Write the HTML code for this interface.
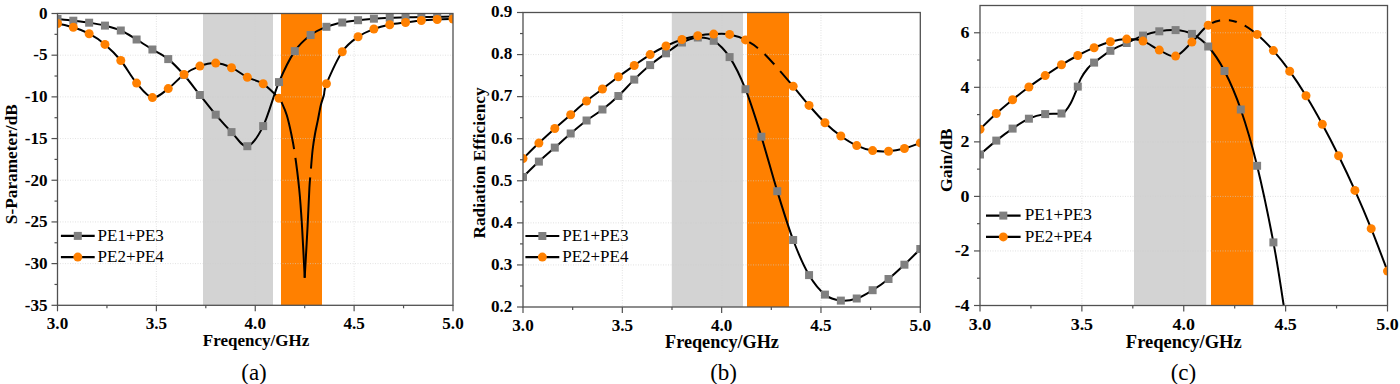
<!DOCTYPE html>
<html><head><meta charset="utf-8"><title>Figure</title>
<style>html,body{margin:0;padding:0;background:#fff;width:1400px;height:384px;overflow:hidden}svg{display:block}</style>
</head><body>
<svg width="1400" height="384" viewBox="0 0 1400 384">
<style>text{font-family:"Liberation Serif",serif;fill:#000}.tl{font-weight:bold;font-size:16px}.at{font-weight:bold}.lg{font-weight:normal}.cp{font-weight:normal}</style>
<rect width="1400" height="384" fill="#fff"/>
<clipPath id="ca"><rect x="57.5" y="13.5" width="395.5" height="291.8"/></clipPath>
<g clip-path="url(#ca)">
<rect x="203" y="13.5" width="70" height="291.8" fill="#d3d3d3"/>
<rect x="281" y="13.5" width="41" height="291.8" fill="#ff8000"/>
<line x1="156.38" y1="13.5" x2="156.38" y2="305.3" stroke="#cfcfcf" stroke-width="1" stroke-opacity="0.6" stroke-dasharray="1 1.5"/>
<line x1="255.25" y1="13.5" x2="255.25" y2="305.3" stroke="#cfcfcf" stroke-width="1" stroke-opacity="0.6" stroke-dasharray="1 1.5"/>
<line x1="354.12" y1="13.5" x2="354.12" y2="305.3" stroke="#cfcfcf" stroke-width="1" stroke-opacity="0.6" stroke-dasharray="1 1.5"/>
<line x1="57.5" y1="55.19" x2="453" y2="55.19" stroke="#cfcfcf" stroke-width="1" stroke-opacity="0.6" stroke-dasharray="1 1.5"/>
<line x1="57.5" y1="96.87" x2="453" y2="96.87" stroke="#cfcfcf" stroke-width="1" stroke-opacity="0.6" stroke-dasharray="1 1.5"/>
<line x1="57.5" y1="138.56" x2="453" y2="138.56" stroke="#cfcfcf" stroke-width="1" stroke-opacity="0.6" stroke-dasharray="1 1.5"/>
<line x1="57.5" y1="180.24" x2="453" y2="180.24" stroke="#cfcfcf" stroke-width="1" stroke-opacity="0.6" stroke-dasharray="1 1.5"/>
<line x1="57.5" y1="221.93" x2="453" y2="221.93" stroke="#cfcfcf" stroke-width="1" stroke-opacity="0.6" stroke-dasharray="1 1.5"/>
<line x1="57.5" y1="263.61" x2="453" y2="263.61" stroke="#cfcfcf" stroke-width="1" stroke-opacity="0.6" stroke-dasharray="1 1.5"/>
<path d="M57.5,19C60.14,19.28 68.05,20.08 73.32,20.7C78.59,21.32 83.87,21.88 89.14,22.7C94.41,23.52 99.69,24.3 104.96,25.6C110.23,26.9 115.51,28.18 120.78,30.5C126.05,32.82 131.33,36.33 136.6,39.5C141.87,42.67 147.15,46.23 152.42,49.5C157.69,52.77 162.97,54.85 168.24,59.1C173.51,63.35 178.79,69.02 184.06,75C189.33,80.98 194.61,88.38 199.88,95C205.15,101.62 210.43,108.52 215.7,114.7C220.97,120.88 226.25,126.85 231.52,132.1C236.79,137.35 242.07,147.2 247.34,146.2C252.61,145.2 257.89,136.78 263.16,126.1C268.43,115.42 273.71,94.6 278.98,82.1C284.25,69.6 289.53,58.95 294.8,51.1C300.07,43.25 305.35,39.05 310.62,35C315.89,30.95 321.17,28.88 326.44,26.8C331.71,24.72 336.99,23.6 342.26,22.5C347.53,21.4 352.81,20.83 358.08,20.2C363.35,19.57 368.63,19.1 373.9,18.7C379.17,18.3 384.45,18.03 389.72,17.8C394.99,17.57 400.27,17.43 405.54,17.3C410.81,17.17 416.09,17.08 421.36,17C426.63,16.92 431.91,16.87 437.18,16.8C442.45,16.73 450.36,16.63 453,16.6" fill="none" stroke="#000" stroke-width="2" stroke-linejoin="round"/>
<path d="M57.5,23.5C60.14,24.12 68.05,25.5 73.32,27.2C78.59,28.9 83.87,30.83 89.14,33.7C94.41,36.57 99.69,39.93 104.96,44.4C110.23,48.87 115.51,54.05 120.78,60.5C126.05,66.95 131.33,76.92 136.6,83.1C141.87,89.28 147.15,96.68 152.42,97.6C157.69,98.52 162.97,92.45 168.24,88.6C173.51,84.75 178.79,78.25 184.06,74.5C189.33,70.75 194.61,68 199.88,66.1C205.15,64.2 210.43,62.83 215.7,63.1C220.97,63.37 226.25,65.33 231.52,67.7C236.79,70.07 242.07,74.62 247.34,77.3C252.61,79.98 257.89,80.32 263.16,83.8C268.43,87.28 275.89,95.07 278.98,98.2C282.07,101.33 280.4,99.75 281.7,102.6C283,105.45 285.2,110.07 286.8,115.3C288.4,120.53 289.97,127.63 291.3,134C292.63,140.37 293.5,144.5 294.8,153.5C296.1,162.5 297.9,175.92 299.1,188C300.3,200.08 301.07,211.05 302,226C302.93,240.95 304.25,269.08 304.7,277.7" fill="none" stroke="#000" stroke-width="2" stroke-linejoin="round"/>
<path d="M304.7,277.7C305.18,269.08 306.82,240.95 307.6,226C308.38,211.05 308.9,196.83 309.4,188C309.9,179.17 310.07,179.33 310.6,173C311.13,166.67 311.87,156.5 312.6,150C313.33,143.5 314.13,138.93 315,134C315.87,129.07 316.83,125.2 317.8,120.4C318.77,115.6 319.78,109.43 320.8,105.2C321.82,100.97 322.96,98.58 323.9,95C324.84,91.42 323.38,90.97 326.44,83.75C329.5,76.53 336.99,59.53 342.26,51.7C347.53,43.88 352.81,40.58 358.08,36.8C363.35,33.02 368.63,31.02 373.9,29C379.17,26.98 384.45,25.78 389.72,24.7C394.99,23.62 400.27,23.2 405.54,22.5C410.81,21.8 416.09,21 421.36,20.5C426.63,20 431.91,19.75 437.18,19.5C442.45,19.25 450.36,19.08 453,19" fill="none" stroke="#000" stroke-width="2" stroke-linejoin="round"/>
<rect x="53.5" y="15" width="8" height="8" fill="#808080"/>
<rect x="69.32" y="16.7" width="8" height="8" fill="#808080"/>
<rect x="85.14" y="18.7" width="8" height="8" fill="#808080"/>
<rect x="100.96" y="21.6" width="8" height="8" fill="#808080"/>
<rect x="116.78" y="26.5" width="8" height="8" fill="#808080"/>
<rect x="132.6" y="35.5" width="8" height="8" fill="#808080"/>
<rect x="148.42" y="45.5" width="8" height="8" fill="#808080"/>
<rect x="164.24" y="55.1" width="8" height="8" fill="#808080"/>
<rect x="180.06" y="71" width="8" height="8" fill="#808080"/>
<rect x="195.88" y="91" width="8" height="8" fill="#808080"/>
<rect x="211.7" y="110.7" width="8" height="8" fill="#808080"/>
<rect x="227.52" y="128.1" width="8" height="8" fill="#808080"/>
<rect x="243.34" y="142.2" width="8" height="8" fill="#808080"/>
<rect x="259.16" y="122.1" width="8" height="8" fill="#808080"/>
<rect x="274.98" y="78.1" width="8" height="8" fill="#808080"/>
<rect x="290.8" y="47.1" width="8" height="8" fill="#808080"/>
<rect x="306.62" y="31" width="8" height="8" fill="#808080"/>
<rect x="322.44" y="22.8" width="8" height="8" fill="#808080"/>
<rect x="338.26" y="18.5" width="8" height="8" fill="#808080"/>
<rect x="354.08" y="16.2" width="8" height="8" fill="#808080"/>
<rect x="369.9" y="14.7" width="8" height="8" fill="#808080"/>
<rect x="385.72" y="13.8" width="8" height="8" fill="#808080"/>
<rect x="401.54" y="13.3" width="8" height="8" fill="#808080"/>
<rect x="417.36" y="13" width="8" height="8" fill="#808080"/>
<rect x="433.18" y="12.8" width="8" height="8" fill="#808080"/>
<rect x="449" y="12.6" width="8" height="8" fill="#808080"/>
<circle cx="57.5" cy="23.5" r="4.5" fill="#ff8000"/>
<circle cx="73.32" cy="27.2" r="4.5" fill="#ff8000"/>
<circle cx="89.14" cy="33.7" r="4.5" fill="#ff8000"/>
<circle cx="104.96" cy="44.4" r="4.5" fill="#ff8000"/>
<circle cx="120.78" cy="60.5" r="4.5" fill="#ff8000"/>
<circle cx="136.6" cy="83.1" r="4.5" fill="#ff8000"/>
<circle cx="152.42" cy="97.6" r="4.5" fill="#ff8000"/>
<circle cx="168.24" cy="88.6" r="4.5" fill="#ff8000"/>
<circle cx="184.06" cy="74.5" r="4.5" fill="#ff8000"/>
<circle cx="199.88" cy="66.1" r="4.5" fill="#ff8000"/>
<circle cx="215.7" cy="63.1" r="4.5" fill="#ff8000"/>
<circle cx="231.52" cy="67.7" r="4.5" fill="#ff8000"/>
<circle cx="247.34" cy="77.3" r="4.5" fill="#ff8000"/>
<circle cx="263.16" cy="83.8" r="4.5" fill="#ff8000"/>
<circle cx="278.98" cy="98.2" r="4.5" fill="#ff8000"/>
<circle cx="294.8" cy="153.5" r="4.5" fill="#ff8000"/>
<circle cx="310.62" cy="173" r="4.5" fill="#ff8000"/>
<circle cx="326.44" cy="83.75" r="4.5" fill="#ff8000"/>
<circle cx="342.26" cy="51.7" r="4.5" fill="#ff8000"/>
<circle cx="358.08" cy="36.8" r="4.5" fill="#ff8000"/>
<circle cx="373.9" cy="29" r="4.5" fill="#ff8000"/>
<circle cx="389.72" cy="24.7" r="4.5" fill="#ff8000"/>
<circle cx="405.54" cy="22.5" r="4.5" fill="#ff8000"/>
<circle cx="421.36" cy="20.5" r="4.5" fill="#ff8000"/>
<circle cx="437.18" cy="19.5" r="4.5" fill="#ff8000"/>
<circle cx="453" cy="19" r="4.5" fill="#ff8000"/>
</g>
<rect x="57.5" y="13.5" width="395.5" height="291.8" fill="none" stroke="#505050" stroke-width="1.3"/>
<line x1="57.5" y1="305.3" x2="57.5" y2="311.3" stroke="#505050" stroke-width="1.2"/>
<line x1="106.94" y1="305.3" x2="106.94" y2="308.3" stroke="#505050" stroke-width="1.2"/>
<line x1="156.38" y1="305.3" x2="156.38" y2="311.3" stroke="#505050" stroke-width="1.2"/>
<line x1="205.81" y1="305.3" x2="205.81" y2="308.3" stroke="#505050" stroke-width="1.2"/>
<line x1="255.25" y1="305.3" x2="255.25" y2="311.3" stroke="#505050" stroke-width="1.2"/>
<line x1="304.69" y1="305.3" x2="304.69" y2="308.3" stroke="#505050" stroke-width="1.2"/>
<line x1="354.12" y1="305.3" x2="354.12" y2="311.3" stroke="#505050" stroke-width="1.2"/>
<line x1="403.56" y1="305.3" x2="403.56" y2="308.3" stroke="#505050" stroke-width="1.2"/>
<line x1="453" y1="305.3" x2="453" y2="311.3" stroke="#505050" stroke-width="1.2"/>
<line x1="51.5" y1="13.5" x2="57.5" y2="13.5" stroke="#505050" stroke-width="1.2"/>
<line x1="54.5" y1="34.34" x2="57.5" y2="34.34" stroke="#505050" stroke-width="1.2"/>
<line x1="51.5" y1="55.19" x2="57.5" y2="55.19" stroke="#505050" stroke-width="1.2"/>
<line x1="54.5" y1="76.03" x2="57.5" y2="76.03" stroke="#505050" stroke-width="1.2"/>
<line x1="51.5" y1="96.87" x2="57.5" y2="96.87" stroke="#505050" stroke-width="1.2"/>
<line x1="54.5" y1="117.71" x2="57.5" y2="117.71" stroke="#505050" stroke-width="1.2"/>
<line x1="51.5" y1="138.56" x2="57.5" y2="138.56" stroke="#505050" stroke-width="1.2"/>
<line x1="54.5" y1="159.4" x2="57.5" y2="159.4" stroke="#505050" stroke-width="1.2"/>
<line x1="51.5" y1="180.24" x2="57.5" y2="180.24" stroke="#505050" stroke-width="1.2"/>
<line x1="54.5" y1="201.09" x2="57.5" y2="201.09" stroke="#505050" stroke-width="1.2"/>
<line x1="51.5" y1="221.93" x2="57.5" y2="221.93" stroke="#505050" stroke-width="1.2"/>
<line x1="54.5" y1="242.77" x2="57.5" y2="242.77" stroke="#505050" stroke-width="1.2"/>
<line x1="51.5" y1="263.61" x2="57.5" y2="263.61" stroke="#505050" stroke-width="1.2"/>
<line x1="54.5" y1="284.46" x2="57.5" y2="284.46" stroke="#505050" stroke-width="1.2"/>
<line x1="51.5" y1="305.3" x2="57.5" y2="305.3" stroke="#505050" stroke-width="1.2"/>
<text transform="translate(57.5,329.2) scale(1.07,1)" class="tl" style="font-size:16px" text-anchor="middle">3.0</text>
<text transform="translate(156.38,329.2) scale(1.07,1)" class="tl" style="font-size:16px" text-anchor="middle">3.5</text>
<text transform="translate(255.25,329.2) scale(1.07,1)" class="tl" style="font-size:16px" text-anchor="middle">4.0</text>
<text transform="translate(354.12,329.2) scale(1.07,1)" class="tl" style="font-size:16px" text-anchor="middle">4.5</text>
<text transform="translate(453,329.2) scale(1.07,1)" class="tl" style="font-size:16px" text-anchor="middle">5.0</text>
<text transform="translate(47.5,18.8) scale(1.07,1)" class="tl" style="font-size:16px" text-anchor="end">0</text>
<text transform="translate(47.5,60.49) scale(1.07,1)" class="tl" style="font-size:16px" text-anchor="end">-5</text>
<text transform="translate(47.5,102.17) scale(1.07,1)" class="tl" style="font-size:16px" text-anchor="end">-10</text>
<text transform="translate(47.5,143.86) scale(1.07,1)" class="tl" style="font-size:16px" text-anchor="end">-15</text>
<text transform="translate(47.5,185.54) scale(1.07,1)" class="tl" style="font-size:16px" text-anchor="end">-20</text>
<text transform="translate(47.5,227.23) scale(1.07,1)" class="tl" style="font-size:16px" text-anchor="end">-25</text>
<text transform="translate(47.5,268.91) scale(1.07,1)" class="tl" style="font-size:16px" text-anchor="end">-30</text>
<text transform="translate(47.5,310.6) scale(1.07,1)" class="tl" style="font-size:16px" text-anchor="end">-35</text>
<text x="256" y="345.8" class="at" style="font-size:17px" text-anchor="middle">Freqency/GHz</text>
<text transform="translate(17.2,164.2) rotate(-90)" class="at" style="font-size:17.3px" text-anchor="middle">S-Parameter/dB</text>
<line x1="60.9" y1="235.9" x2="94.7" y2="235.9" stroke="#000" stroke-width="2.2"/>
<rect x="73.8" y="231.9" width="8" height="8" fill="#808080"/>
<line x1="60.9" y1="257.1" x2="94.7" y2="257.1" stroke="#000" stroke-width="2.2"/>
<circle cx="77.8" cy="257.1" r="4.5" fill="#ff8000"/>
<text transform="translate(97.6,241.1) scale(1.05,1)" class="lg" style="font-size:16.2px">PE1+PE3</text>
<text transform="translate(97.6,262.1) scale(1.05,1)" class="lg" style="font-size:16.2px">PE2+PE4</text>
<text x="254" y="379.6" class="cp" style="font-size:23px" text-anchor="middle">(a)</text>
<clipPath id="cb"><rect x="523" y="12.5" width="397.3" height="294.5"/></clipPath>
<g clip-path="url(#cb)">
<rect x="671.8" y="12.5" width="71.2" height="294.5" fill="#d3d3d3"/>
<rect x="747" y="12.5" width="42" height="294.5" fill="#ff8000"/>
<line x1="622.33" y1="12.5" x2="622.33" y2="307" stroke="#cfcfcf" stroke-width="1" stroke-opacity="0.6" stroke-dasharray="1 1.5"/>
<line x1="721.65" y1="12.5" x2="721.65" y2="307" stroke="#cfcfcf" stroke-width="1" stroke-opacity="0.6" stroke-dasharray="1 1.5"/>
<line x1="820.97" y1="12.5" x2="820.97" y2="307" stroke="#cfcfcf" stroke-width="1" stroke-opacity="0.6" stroke-dasharray="1 1.5"/>
<line x1="523" y1="264.93" x2="920.3" y2="264.93" stroke="#cfcfcf" stroke-width="1" stroke-opacity="0.6" stroke-dasharray="1 1.5"/>
<line x1="523" y1="222.86" x2="920.3" y2="222.86" stroke="#cfcfcf" stroke-width="1" stroke-opacity="0.6" stroke-dasharray="1 1.5"/>
<line x1="523" y1="180.79" x2="920.3" y2="180.79" stroke="#cfcfcf" stroke-width="1" stroke-opacity="0.6" stroke-dasharray="1 1.5"/>
<line x1="523" y1="138.71" x2="920.3" y2="138.71" stroke="#cfcfcf" stroke-width="1" stroke-opacity="0.6" stroke-dasharray="1 1.5"/>
<line x1="523" y1="96.64" x2="920.3" y2="96.64" stroke="#cfcfcf" stroke-width="1" stroke-opacity="0.6" stroke-dasharray="1 1.5"/>
<line x1="523" y1="54.57" x2="920.3" y2="54.57" stroke="#cfcfcf" stroke-width="1" stroke-opacity="0.6" stroke-dasharray="1 1.5"/>
<path d="M523,177C525.65,174.43 533.59,166.5 538.89,161.6C544.19,156.7 549.49,152.28 554.78,147.6C560.08,142.92 565.38,138.02 570.68,133.5C575.97,128.98 581.27,124.5 586.57,120.5C591.87,116.5 597.16,113.58 602.46,109.5C607.76,105.42 613.05,100.98 618.35,96C623.65,91.02 628.95,84.75 634.24,79.6C639.54,74.45 644.84,69.48 650.14,65.1C655.43,60.72 660.73,57.07 666.03,53.3C671.33,49.53 676.62,45.13 681.92,42.5C687.22,39.87 692.51,37.78 697.81,37.5C703.11,37.22 708.41,37.53 713.7,40.8C719,44.07 724.3,49.03 729.6,57.1C734.89,65.17 740.19,75.93 745.49,89.2C750.79,102.47 756.08,119.7 761.38,136.7C766.68,153.7 771.97,173.98 777.27,191.2C782.57,208.42 787.87,226.02 793.16,240C798.46,253.98 803.76,266 809.06,275.1C814.35,284.2 819.65,290.35 824.95,294.6C830.25,298.85 835.54,299.95 840.84,300.6C846.14,301.25 851.43,300.23 856.73,298.5C862.03,296.77 867.33,293.45 872.62,290.2C877.92,286.95 883.22,283.25 888.52,279C893.81,274.75 899.11,269.7 904.41,264.7C909.71,259.7 917.65,251.62 920.3,249" fill="none" stroke="#000" stroke-width="2" stroke-linejoin="round"/>
<path d="M523,158.6C525.65,156.02 533.59,148.12 538.89,143.1C544.19,138.08 549.49,133.23 554.78,128.5C560.08,123.77 565.38,119.28 570.68,114.7C575.97,110.12 581.27,105.28 586.57,101C591.87,96.72 597.16,93.03 602.46,89C607.76,84.97 613.05,80.72 618.35,76.8C623.65,72.88 628.95,69.2 634.24,65.5C639.54,61.8 644.84,57.85 650.14,54.6C655.43,51.35 660.73,48.52 666.03,46C671.33,43.48 676.62,41.22 681.92,39.5C687.22,37.78 692.51,36.6 697.81,35.7C703.11,34.8 708.41,34.32 713.7,34.1C719,33.88 724.3,33.43 729.6,34.4C734.89,35.37 740.19,37.13 745.49,39.9C750.79,42.67 756.08,46.35 761.38,51C766.68,55.65 771.97,61.92 777.27,67.8C782.57,73.68 787.87,80.03 793.16,86.3C798.46,92.57 803.76,99.33 809.06,105.4C814.35,111.47 819.65,117.6 824.95,122.7C830.25,127.8 835.54,132.18 840.84,136C846.14,139.82 851.43,143.17 856.73,145.6C862.03,148.03 867.33,149.66 872.62,150.6C877.92,151.54 883.22,151.6 888.52,151.25C893.81,150.9 899.11,149.89 904.41,148.5C909.71,147.11 917.65,143.83 920.3,142.9" fill="none" stroke="#000" stroke-width="2" stroke-linejoin="round"/>
<rect x="519" y="173" width="8" height="8" fill="#808080"/>
<rect x="534.89" y="157.6" width="8" height="8" fill="#808080"/>
<rect x="550.78" y="143.6" width="8" height="8" fill="#808080"/>
<rect x="566.68" y="129.5" width="8" height="8" fill="#808080"/>
<rect x="582.57" y="116.5" width="8" height="8" fill="#808080"/>
<rect x="598.46" y="105.5" width="8" height="8" fill="#808080"/>
<rect x="614.35" y="92" width="8" height="8" fill="#808080"/>
<rect x="630.24" y="75.6" width="8" height="8" fill="#808080"/>
<rect x="646.14" y="61.1" width="8" height="8" fill="#808080"/>
<rect x="662.03" y="49.3" width="8" height="8" fill="#808080"/>
<rect x="677.92" y="38.5" width="8" height="8" fill="#808080"/>
<rect x="693.81" y="33.5" width="8" height="8" fill="#808080"/>
<rect x="709.7" y="36.8" width="8" height="8" fill="#808080"/>
<rect x="725.6" y="53.1" width="8" height="8" fill="#808080"/>
<rect x="741.49" y="85.2" width="8" height="8" fill="#808080"/>
<rect x="757.38" y="132.7" width="8" height="8" fill="#808080"/>
<rect x="773.27" y="187.2" width="8" height="8" fill="#808080"/>
<rect x="789.16" y="236" width="8" height="8" fill="#808080"/>
<rect x="805.06" y="271.1" width="8" height="8" fill="#808080"/>
<rect x="820.95" y="290.6" width="8" height="8" fill="#808080"/>
<rect x="836.84" y="296.6" width="8" height="8" fill="#808080"/>
<rect x="852.73" y="294.5" width="8" height="8" fill="#808080"/>
<rect x="868.62" y="286.2" width="8" height="8" fill="#808080"/>
<rect x="884.52" y="275" width="8" height="8" fill="#808080"/>
<rect x="900.41" y="260.7" width="8" height="8" fill="#808080"/>
<rect x="916.3" y="245" width="8" height="8" fill="#808080"/>
<circle cx="523" cy="158.6" r="4.5" fill="#ff8000"/>
<circle cx="538.89" cy="143.1" r="4.5" fill="#ff8000"/>
<circle cx="554.78" cy="128.5" r="4.5" fill="#ff8000"/>
<circle cx="570.68" cy="114.7" r="4.5" fill="#ff8000"/>
<circle cx="586.57" cy="101" r="4.5" fill="#ff8000"/>
<circle cx="602.46" cy="89" r="4.5" fill="#ff8000"/>
<circle cx="618.35" cy="76.8" r="4.5" fill="#ff8000"/>
<circle cx="634.24" cy="65.5" r="4.5" fill="#ff8000"/>
<circle cx="650.14" cy="54.6" r="4.5" fill="#ff8000"/>
<circle cx="666.03" cy="46" r="4.5" fill="#ff8000"/>
<circle cx="681.92" cy="39.5" r="4.5" fill="#ff8000"/>
<circle cx="697.81" cy="35.7" r="4.5" fill="#ff8000"/>
<circle cx="713.7" cy="34.1" r="4.5" fill="#ff8000"/>
<circle cx="729.6" cy="34.4" r="4.5" fill="#ff8000"/>
<circle cx="745.49" cy="39.9" r="4.5" fill="#ff8000"/>
<circle cx="761.38" cy="51" r="4.5" fill="#ff8000"/>
<circle cx="777.27" cy="67.8" r="4.5" fill="#ff8000"/>
<circle cx="793.16" cy="86.3" r="4.5" fill="#ff8000"/>
<circle cx="809.06" cy="105.4" r="4.5" fill="#ff8000"/>
<circle cx="824.95" cy="122.7" r="4.5" fill="#ff8000"/>
<circle cx="840.84" cy="136" r="4.5" fill="#ff8000"/>
<circle cx="856.73" cy="145.6" r="4.5" fill="#ff8000"/>
<circle cx="872.62" cy="150.6" r="4.5" fill="#ff8000"/>
<circle cx="888.52" cy="151.25" r="4.5" fill="#ff8000"/>
<circle cx="904.41" cy="148.5" r="4.5" fill="#ff8000"/>
<circle cx="920.3" cy="142.9" r="4.5" fill="#ff8000"/>
</g>
<rect x="523" y="12.5" width="397.3" height="294.5" fill="none" stroke="#505050" stroke-width="1.3"/>
<line x1="523" y1="307" x2="523" y2="313" stroke="#505050" stroke-width="1.2"/>
<line x1="572.66" y1="307" x2="572.66" y2="310" stroke="#505050" stroke-width="1.2"/>
<line x1="622.33" y1="307" x2="622.33" y2="313" stroke="#505050" stroke-width="1.2"/>
<line x1="671.99" y1="307" x2="671.99" y2="310" stroke="#505050" stroke-width="1.2"/>
<line x1="721.65" y1="307" x2="721.65" y2="313" stroke="#505050" stroke-width="1.2"/>
<line x1="771.31" y1="307" x2="771.31" y2="310" stroke="#505050" stroke-width="1.2"/>
<line x1="820.97" y1="307" x2="820.97" y2="313" stroke="#505050" stroke-width="1.2"/>
<line x1="870.64" y1="307" x2="870.64" y2="310" stroke="#505050" stroke-width="1.2"/>
<line x1="920.3" y1="307" x2="920.3" y2="313" stroke="#505050" stroke-width="1.2"/>
<line x1="517" y1="307" x2="523" y2="307" stroke="#505050" stroke-width="1.2"/>
<line x1="520" y1="285.96" x2="523" y2="285.96" stroke="#505050" stroke-width="1.2"/>
<line x1="517" y1="264.93" x2="523" y2="264.93" stroke="#505050" stroke-width="1.2"/>
<line x1="520" y1="243.89" x2="523" y2="243.89" stroke="#505050" stroke-width="1.2"/>
<line x1="517" y1="222.86" x2="523" y2="222.86" stroke="#505050" stroke-width="1.2"/>
<line x1="520" y1="201.82" x2="523" y2="201.82" stroke="#505050" stroke-width="1.2"/>
<line x1="517" y1="180.79" x2="523" y2="180.79" stroke="#505050" stroke-width="1.2"/>
<line x1="520" y1="159.75" x2="523" y2="159.75" stroke="#505050" stroke-width="1.2"/>
<line x1="517" y1="138.71" x2="523" y2="138.71" stroke="#505050" stroke-width="1.2"/>
<line x1="520" y1="117.68" x2="523" y2="117.68" stroke="#505050" stroke-width="1.2"/>
<line x1="517" y1="96.64" x2="523" y2="96.64" stroke="#505050" stroke-width="1.2"/>
<line x1="520" y1="75.61" x2="523" y2="75.61" stroke="#505050" stroke-width="1.2"/>
<line x1="517" y1="54.57" x2="523" y2="54.57" stroke="#505050" stroke-width="1.2"/>
<line x1="520" y1="33.54" x2="523" y2="33.54" stroke="#505050" stroke-width="1.2"/>
<line x1="517" y1="12.5" x2="523" y2="12.5" stroke="#505050" stroke-width="1.2"/>
<text transform="translate(523,330.5) scale(1.07,1)" class="tl" style="font-size:16px" text-anchor="middle">3.0</text>
<text transform="translate(622.33,330.5) scale(1.07,1)" class="tl" style="font-size:16px" text-anchor="middle">3.5</text>
<text transform="translate(721.65,330.5) scale(1.07,1)" class="tl" style="font-size:16px" text-anchor="middle">4.0</text>
<text transform="translate(820.97,330.5) scale(1.07,1)" class="tl" style="font-size:16px" text-anchor="middle">4.5</text>
<text transform="translate(920.3,330.5) scale(1.07,1)" class="tl" style="font-size:16px" text-anchor="middle">5.0</text>
<text transform="translate(512.4,311.8) scale(1.07,1)" class="tl" style="font-size:16px" text-anchor="end">0.2</text>
<text transform="translate(512.4,269.73) scale(1.07,1)" class="tl" style="font-size:16px" text-anchor="end">0.3</text>
<text transform="translate(512.4,227.66) scale(1.07,1)" class="tl" style="font-size:16px" text-anchor="end">0.4</text>
<text transform="translate(512.4,185.59) scale(1.07,1)" class="tl" style="font-size:16px" text-anchor="end">0.5</text>
<text transform="translate(512.4,143.51) scale(1.07,1)" class="tl" style="font-size:16px" text-anchor="end">0.6</text>
<text transform="translate(512.4,101.44) scale(1.07,1)" class="tl" style="font-size:16px" text-anchor="end">0.7</text>
<text transform="translate(512.4,59.37) scale(1.07,1)" class="tl" style="font-size:16px" text-anchor="end">0.8</text>
<text transform="translate(512.4,17.3) scale(1.07,1)" class="tl" style="font-size:16px" text-anchor="end">0.9</text>
<text x="722" y="347.8" class="at" style="font-size:18.2px" text-anchor="middle">Freqency/GHz</text>
<text transform="translate(485.3,163) rotate(-90)" class="at" style="font-size:17.3px" text-anchor="middle">Radiation Efficiency</text>
<line x1="525.4" y1="236" x2="559.3" y2="236" stroke="#000" stroke-width="2.2"/>
<rect x="538.35" y="232" width="8" height="8" fill="#808080"/>
<line x1="525.4" y1="257.1" x2="559.3" y2="257.1" stroke="#000" stroke-width="2.2"/>
<circle cx="542.35" cy="257.1" r="4.5" fill="#ff8000"/>
<text transform="translate(562.2,240.9) scale(1.05,1)" class="lg" style="font-size:16.2px">PE1+PE3</text>
<text transform="translate(562.2,261.8) scale(1.05,1)" class="lg" style="font-size:16.2px">PE2+PE4</text>
<text x="723.6" y="379.7" class="cp" style="font-size:23px" text-anchor="middle">(b)</text>
<clipPath id="cc"><rect x="980" y="5.5" width="407.5" height="300"/></clipPath>
<g clip-path="url(#cc)">
<rect x="1134" y="5.5" width="72.2" height="300" fill="#d3d3d3"/>
<rect x="1211" y="5.5" width="42.3" height="300" fill="#ff8000"/>
<line x1="1081.88" y1="5.5" x2="1081.88" y2="305.5" stroke="#cfcfcf" stroke-width="1" stroke-opacity="0.6" stroke-dasharray="1 1.5"/>
<line x1="1183.75" y1="5.5" x2="1183.75" y2="305.5" stroke="#cfcfcf" stroke-width="1" stroke-opacity="0.6" stroke-dasharray="1 1.5"/>
<line x1="1285.62" y1="5.5" x2="1285.62" y2="305.5" stroke="#cfcfcf" stroke-width="1" stroke-opacity="0.6" stroke-dasharray="1 1.5"/>
<line x1="980" y1="250.95" x2="1387.5" y2="250.95" stroke="#cfcfcf" stroke-width="1" stroke-opacity="0.6" stroke-dasharray="1 1.5"/>
<line x1="980" y1="196.41" x2="1387.5" y2="196.41" stroke="#cfcfcf" stroke-width="1" stroke-opacity="0.6" stroke-dasharray="1 1.5"/>
<line x1="980" y1="141.86" x2="1387.5" y2="141.86" stroke="#cfcfcf" stroke-width="1" stroke-opacity="0.6" stroke-dasharray="1 1.5"/>
<line x1="980" y1="87.32" x2="1387.5" y2="87.32" stroke="#cfcfcf" stroke-width="1" stroke-opacity="0.6" stroke-dasharray="1 1.5"/>
<line x1="980" y1="32.77" x2="1387.5" y2="32.77" stroke="#cfcfcf" stroke-width="1" stroke-opacity="0.6" stroke-dasharray="1 1.5"/>
<path d="M980,154.5C982.72,152.18 990.87,144.92 996.3,140.6C1001.73,136.28 1007.17,132.25 1012.6,128.6C1018.03,124.95 1023.47,121.12 1028.9,118.7C1034.33,116.28 1039.77,114.97 1045.2,114.1C1050.63,113.23 1058.1,114.05 1061.5,113.5C1064.9,112.95 1064.07,112.52 1065.6,110.8C1067.13,109.08 1069.15,106.02 1070.7,103.2C1072.25,100.38 1073.72,96.67 1074.9,93.9C1076.08,91.13 1076.82,89.15 1077.8,86.6C1078.78,84.05 1079.17,81.62 1080.8,78.6C1082.43,75.58 1085.38,71.17 1087.6,68.5C1089.82,65.83 1090.3,65.55 1094.1,62.6C1097.9,59.65 1104.97,54.07 1110.4,50.8C1115.83,47.53 1121.27,45.53 1126.7,43C1132.13,40.47 1137.57,37.55 1143,35.6C1148.43,33.65 1153.87,32.22 1159.3,31.3C1164.73,30.38 1170.17,29.67 1175.6,30.1C1181.03,30.53 1186.47,31.17 1191.9,33.9C1197.33,36.63 1202.77,40.32 1208.2,46.5C1213.63,52.68 1219.07,60.5 1224.5,71C1229.93,81.5 1235.37,93.7 1240.8,109.5C1246.23,125.3 1251.67,143.65 1257.1,165.8C1262.53,187.95 1268.97,219.12 1273.4,242.4C1277.83,265.68 1281.52,290.9 1283.7,305.5C1285.88,320.1 1286.03,325.92 1286.5,330" fill="none" stroke="#000" stroke-width="2" stroke-linejoin="round"/>
<path d="M980,129.2C982.72,126.58 990.87,118.42 996.3,113.5C1001.73,108.58 1007.17,104.12 1012.6,99.7C1018.03,95.28 1023.47,91.02 1028.9,87C1034.33,82.98 1039.77,79.3 1045.2,75.6C1050.63,71.9 1056.07,68.15 1061.5,64.8C1066.93,61.45 1072.37,58.35 1077.8,55.5C1083.23,52.65 1088.67,50 1094.1,47.7C1099.53,45.4 1104.97,43.13 1110.4,41.7C1115.83,40.27 1121.27,39.2 1126.7,39.1C1132.13,39 1137.57,39.27 1143,41.1C1148.43,42.93 1153.87,47.6 1159.3,50.1C1164.73,52.6 1170.17,57.43 1175.6,56.1C1181.03,54.77 1186.47,47.25 1191.9,42.1C1197.33,36.95 1202.77,28.88 1208.2,25.2C1213.63,21.52 1219.07,20.27 1224.5,20C1229.93,19.73 1235.37,21.2 1240.8,23.6C1246.23,26 1251.67,29.9 1257.1,34.4C1262.53,38.9 1267.97,44.47 1273.4,50.6C1278.83,56.73 1284.27,63.67 1289.7,71.2C1295.13,78.73 1300.57,86.97 1306,95.8C1311.43,104.63 1316.87,114.22 1322.3,124.2C1327.73,134.18 1333.17,144.67 1338.6,155.7C1344.03,166.73 1349.47,178.24 1354.9,190.4C1360.33,202.56 1365.77,215.2 1371.2,228.65C1376.63,242.1 1384.78,264.03 1387.5,271.1" fill="none" stroke="#000" stroke-width="2" stroke-linejoin="round"/>
<rect x="976" y="150.5" width="8" height="8" fill="#808080"/>
<rect x="992.3" y="136.6" width="8" height="8" fill="#808080"/>
<rect x="1008.6" y="124.6" width="8" height="8" fill="#808080"/>
<rect x="1024.9" y="114.7" width="8" height="8" fill="#808080"/>
<rect x="1041.2" y="110.1" width="8" height="8" fill="#808080"/>
<rect x="1057.5" y="109.5" width="8" height="8" fill="#808080"/>
<rect x="1073.8" y="82.6" width="8" height="8" fill="#808080"/>
<rect x="1090.1" y="58.6" width="8" height="8" fill="#808080"/>
<rect x="1106.4" y="46.8" width="8" height="8" fill="#808080"/>
<rect x="1122.7" y="39" width="8" height="8" fill="#808080"/>
<rect x="1139" y="31.6" width="8" height="8" fill="#808080"/>
<rect x="1155.3" y="27.3" width="8" height="8" fill="#808080"/>
<rect x="1171.6" y="26.1" width="8" height="8" fill="#808080"/>
<rect x="1187.9" y="29.9" width="8" height="8" fill="#808080"/>
<rect x="1204.2" y="42.5" width="8" height="8" fill="#808080"/>
<rect x="1220.5" y="67" width="8" height="8" fill="#808080"/>
<rect x="1236.8" y="105.5" width="8" height="8" fill="#808080"/>
<rect x="1253.1" y="161.8" width="8" height="8" fill="#808080"/>
<rect x="1269.4" y="238.4" width="8" height="8" fill="#808080"/>
<circle cx="980" cy="129.2" r="4.5" fill="#ff8000"/>
<circle cx="996.3" cy="113.5" r="4.5" fill="#ff8000"/>
<circle cx="1012.6" cy="99.7" r="4.5" fill="#ff8000"/>
<circle cx="1028.9" cy="87" r="4.5" fill="#ff8000"/>
<circle cx="1045.2" cy="75.6" r="4.5" fill="#ff8000"/>
<circle cx="1061.5" cy="64.8" r="4.5" fill="#ff8000"/>
<circle cx="1077.8" cy="55.5" r="4.5" fill="#ff8000"/>
<circle cx="1094.1" cy="47.7" r="4.5" fill="#ff8000"/>
<circle cx="1110.4" cy="41.7" r="4.5" fill="#ff8000"/>
<circle cx="1126.7" cy="39.1" r="4.5" fill="#ff8000"/>
<circle cx="1143" cy="41.1" r="4.5" fill="#ff8000"/>
<circle cx="1159.3" cy="50.1" r="4.5" fill="#ff8000"/>
<circle cx="1175.6" cy="56.1" r="4.5" fill="#ff8000"/>
<circle cx="1191.9" cy="42.1" r="4.5" fill="#ff8000"/>
<circle cx="1208.2" cy="25.2" r="4.5" fill="#ff8000"/>
<circle cx="1224.5" cy="20" r="4.5" fill="#ff8000"/>
<circle cx="1240.8" cy="23.6" r="4.5" fill="#ff8000"/>
<circle cx="1257.1" cy="34.4" r="4.5" fill="#ff8000"/>
<circle cx="1273.4" cy="50.6" r="4.5" fill="#ff8000"/>
<circle cx="1289.7" cy="71.2" r="4.5" fill="#ff8000"/>
<circle cx="1306" cy="95.8" r="4.5" fill="#ff8000"/>
<circle cx="1322.3" cy="124.2" r="4.5" fill="#ff8000"/>
<circle cx="1338.6" cy="155.7" r="4.5" fill="#ff8000"/>
<circle cx="1354.9" cy="190.4" r="4.5" fill="#ff8000"/>
<circle cx="1371.2" cy="228.65" r="4.5" fill="#ff8000"/>
<circle cx="1387.5" cy="271.1" r="4.5" fill="#ff8000"/>
</g>
<rect x="980" y="5.5" width="407.5" height="300" fill="none" stroke="#505050" stroke-width="1.3"/>
<line x1="980" y1="305.5" x2="980" y2="311.5" stroke="#505050" stroke-width="1.2"/>
<line x1="1030.94" y1="305.5" x2="1030.94" y2="308.5" stroke="#505050" stroke-width="1.2"/>
<line x1="1081.88" y1="305.5" x2="1081.88" y2="311.5" stroke="#505050" stroke-width="1.2"/>
<line x1="1132.81" y1="305.5" x2="1132.81" y2="308.5" stroke="#505050" stroke-width="1.2"/>
<line x1="1183.75" y1="305.5" x2="1183.75" y2="311.5" stroke="#505050" stroke-width="1.2"/>
<line x1="1234.69" y1="305.5" x2="1234.69" y2="308.5" stroke="#505050" stroke-width="1.2"/>
<line x1="1285.62" y1="305.5" x2="1285.62" y2="311.5" stroke="#505050" stroke-width="1.2"/>
<line x1="1336.56" y1="305.5" x2="1336.56" y2="308.5" stroke="#505050" stroke-width="1.2"/>
<line x1="1387.5" y1="305.5" x2="1387.5" y2="311.5" stroke="#505050" stroke-width="1.2"/>
<line x1="974" y1="305.5" x2="980" y2="305.5" stroke="#505050" stroke-width="1.2"/>
<line x1="977" y1="278.23" x2="980" y2="278.23" stroke="#505050" stroke-width="1.2"/>
<line x1="974" y1="250.95" x2="980" y2="250.95" stroke="#505050" stroke-width="1.2"/>
<line x1="977" y1="223.68" x2="980" y2="223.68" stroke="#505050" stroke-width="1.2"/>
<line x1="974" y1="196.41" x2="980" y2="196.41" stroke="#505050" stroke-width="1.2"/>
<line x1="977" y1="169.14" x2="980" y2="169.14" stroke="#505050" stroke-width="1.2"/>
<line x1="974" y1="141.86" x2="980" y2="141.86" stroke="#505050" stroke-width="1.2"/>
<line x1="977" y1="114.59" x2="980" y2="114.59" stroke="#505050" stroke-width="1.2"/>
<line x1="974" y1="87.32" x2="980" y2="87.32" stroke="#505050" stroke-width="1.2"/>
<line x1="977" y1="60.05" x2="980" y2="60.05" stroke="#505050" stroke-width="1.2"/>
<line x1="974" y1="32.77" x2="980" y2="32.77" stroke="#505050" stroke-width="1.2"/>
<text transform="translate(980,330) scale(1.07,1)" class="tl" style="font-size:16.8px" text-anchor="middle">3.0</text>
<text transform="translate(1081.88,330) scale(1.07,1)" class="tl" style="font-size:16.8px" text-anchor="middle">3.5</text>
<text transform="translate(1183.75,330) scale(1.07,1)" class="tl" style="font-size:16.8px" text-anchor="middle">4.0</text>
<text transform="translate(1285.62,330) scale(1.07,1)" class="tl" style="font-size:16.8px" text-anchor="middle">4.5</text>
<text transform="translate(1387.5,330) scale(1.07,1)" class="tl" style="font-size:16.8px" text-anchor="middle">5.0</text>
<text transform="translate(969.6,310.7) scale(1.07,1)" class="tl" style="font-size:16.8px" text-anchor="end">-4</text>
<text transform="translate(969.6,256.15) scale(1.07,1)" class="tl" style="font-size:16.8px" text-anchor="end">-2</text>
<text transform="translate(969.6,201.61) scale(1.07,1)" class="tl" style="font-size:16.8px" text-anchor="end">0</text>
<text transform="translate(969.6,147.06) scale(1.07,1)" class="tl" style="font-size:16.8px" text-anchor="end">2</text>
<text transform="translate(969.6,92.52) scale(1.07,1)" class="tl" style="font-size:16.8px" text-anchor="end">4</text>
<text transform="translate(969.6,37.97) scale(1.07,1)" class="tl" style="font-size:16.8px" text-anchor="end">6</text>
<text x="1183.75" y="347.5" class="at" style="font-size:18.5px" text-anchor="middle">Freqency/GHz</text>
<text transform="translate(952.4,160.2) rotate(-90)" class="at" style="font-size:17.6px" text-anchor="middle">Gain/dB</text>
<line x1="986" y1="215.6" x2="1020.6" y2="215.6" stroke="#000" stroke-width="2.2"/>
<rect x="999.3" y="211.6" width="8" height="8" fill="#808080"/>
<line x1="986" y1="236.9" x2="1020.6" y2="236.9" stroke="#000" stroke-width="2.2"/>
<circle cx="1003.3" cy="236.9" r="4.5" fill="#ff8000"/>
<text transform="translate(1024.8,220.3) scale(1.05,1)" class="lg" style="font-size:16.4px">PE1+PE3</text>
<text transform="translate(1024.8,241.6) scale(1.05,1)" class="lg" style="font-size:16.4px">PE2+PE4</text>
<text x="1183.4" y="379.7" class="cp" style="font-size:23px" text-anchor="middle">(c)</text>
</svg>
</body></html>
